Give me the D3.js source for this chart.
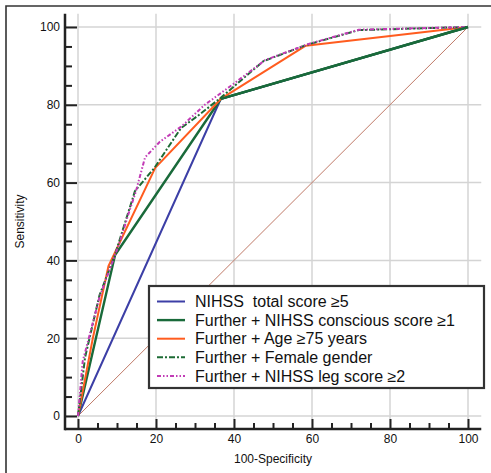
<!DOCTYPE html>
<html><head><meta charset="utf-8">
<script src="https://cdn.jsdelivr.net/npm/d3@7"></script>
<style>body{margin:0;background:#fff}svg{display:block;font-family:"Liberation Sans",Arial,sans-serif}</style>
</head><body>
<svg id="c" width="491" height="473"></svg>
<script>
const seriesNames = ["NIHSS\u00a0 total score \u22655","Further + NIHSS conscious score \u22651","Further + Age \u226575 years","Further + Female gender","Further + NIHSS leg score \u22652"];
const blueX = [0, 36.6, 100];
const blueY = [0, 81.5, 100];
const greenX = [0, 9.5, 36.6, 100];
const greenY = [0, 41.4, 81.5, 100];
const orangeX = [0, 3.8, 7.8, 19.8, 36.6, 58.4, 100];
const orangeY = [0, 20, 38.5, 63.8, 81.5, 95.2, 100];
const femaleX = [0, 1.8, 5.5, 9.5, 14.6, 19.6, 26.4, 31.3, 36.6, 47.5, 58.6, 72, 100];
const femaleY = [0, 15, 31, 41.5, 57.8, 63.8, 74, 77.6, 81.8, 91.2, 95.4, 99.2, 100];
const legX = [0, 1.2, 5.5, 10.6, 12.8, 14.8, 17.2, 21, 26.6, 32.5, 39.5, 48, 59, 72, 100];
const legY = [0, 14, 30.5, 44.4, 51.5, 57.6, 66.5, 70.5, 74.5, 80, 85.1, 91.5, 95.6, 99.3, 100];
const diagX = [0, 100];
const diagY = [0, 100];
const majorTicks = [0, 20, 40, 60, 80, 100];
const minorTicks = [5,10,15,25,30,35,45,50,55,65,70,75,85,90,95];
const xTitle = "100-Specificity";
const yTitle = "Sensitivity";

const svg = d3.select("#c");
const x = d3.scaleLinear().domain([0,100]).range([78,468]);
const y = d3.scaleLinear().domain([0,100]).range([416,27]);

// outer frame (cropped)
svg.append("path").attr("d","M6,473 L6,6 L491,6").attr("fill","none").attr("stroke","#333").attr("stroke-width",1.6);

// grid
const g = svg.append("g");
majorTicks.forEach(v=>{
  g.append("line").attr("x1",x(v)).attr("x2",x(v)).attr("y1",y(103.4)).attr("y2",y(-3.4)).attr("stroke","#d4d4d4").attr("stroke-width",1.5);
  g.append("line").attr("y1",y(v)).attr("y2",y(v)).attr("x1",x(-3.3)).attr("x2",x(103.4)).attr("stroke","#d4d4d4").attr("stroke-width",1.5);
});

// axes
const axX = 65, axY = 429;
const ya = svg.append("g").attr("transform",`translate(${axX},0)`)
  .call(d3.axisLeft(y).tickValues(majorTicks).tickSizeInner(-12).tickSizeOuter(0).tickPadding(5));
const yam = svg.append("g").attr("transform",`translate(${axX},0)`)
  .call(d3.axisLeft(y).tickValues(minorTicks).tickSizeInner(-7).tickSizeOuter(0).tickFormat(""));
const xa = svg.append("g").attr("transform",`translate(0,${axY})`)
  .call(d3.axisBottom(x).tickValues(majorTicks).tickSizeInner(-10).tickSizeOuter(0).tickPadding(5));
const xam = svg.append("g").attr("transform",`translate(0,${axY})`)
  .call(d3.axisBottom(x).tickValues(minorTicks).tickSizeInner(-6).tickSizeOuter(0).tickFormat(""));
[ya,yam,xa,xam].forEach(a=>{
  a.select(".domain").remove();
  a.selectAll(".tick line").attr("stroke","#222").attr("stroke-width",2);
  a.selectAll("text").attr("font-size",12).attr("fill","#111").attr("font-family","Liberation Sans, Arial, sans-serif");
});
svg.append("line").attr("x1",axX).attr("x2",axX).attr("y1",y(103.4)).attr("y2",axY+1.2).attr("stroke","#222").attr("stroke-width",2.5);
svg.append("line").attr("x1",axX).attr("x2",x(103.4)).attr("y1",axY).attr("y2",axY).attr("stroke","#222").attr("stroke-width",2.5);

svg.append("text").attr("x",(x(0)+x(100))/2).attr("y",463).attr("text-anchor","middle").attr("font-size",12).attr("fill","#111").text(xTitle);
svg.append("text").attr("transform",`translate(24,${(y(0)+y(100))/2}) rotate(-90)`).attr("text-anchor","middle").attr("font-size",12).attr("fill","#111").text(yTitle);

const line = d3.line().x(d=>x(d[0])).y(d=>y(d[1]));
const zip = (a,b)=>a.map((v,i)=>[v,b[i]]);

// diagonal
svg.append("path").attr("d",line(zip(diagX,diagY))).attr("fill","none").attr("stroke","#c07a68").attr("stroke-width",1);

const styles = [
  {xs:blueX, ys:blueY, color:"#3c3fa6", w:2, dash:null},
  {xs:greenX, ys:greenY, color:"#196a3a", w:2.4, dash:null},
  {xs:orangeX, ys:orangeY, color:"#ff5c1f", w:2, dash:null},
  {xs:femaleX, ys:femaleY, color:"#1d6b34", w:2, dash:"6,2,2,2"},
  {xs:legX, ys:legY, color:"#c23cb6", w:2, dash:"4,2,1.5,2,1.5,2"}
];
styles.forEach(s=>{
  const p = svg.append("path").attr("d",line(zip(s.xs,s.ys))).attr("fill","none")
    .attr("stroke",s.color).attr("stroke-width",s.w).attr("stroke-linejoin","round");
  if (s.dash) p.attr("stroke-dasharray",s.dash);
});
// green drawn over blue on the shared upper segment
svg.append("path").attr("d",line(zip(greenX.slice(2),greenY.slice(2)))).attr("fill","none").attr("stroke","#196a3a").attr("stroke-width",2.4);

// legend
const lg = svg.append("g");
lg.append("rect").attr("x",149).attr("y",286).attr("width",335).attr("height",102).attr("fill","#fff").attr("stroke","#333").attr("stroke-width",2.2);
seriesNames.forEach((n,i)=>{
  const cy = 301.5 + i*18.6;
  const s = styles[i];
  const l = lg.append("line").attr("x1",157).attr("x2",185).attr("y1",cy).attr("y2",cy).attr("stroke",s.color).attr("stroke-width",s.w);
  if (s.dash) l.attr("stroke-dasharray",s.dash);
  lg.append("text").attr("x",195).attr("y",cy).attr("dy","0.36em").attr("font-size",16).attr("fill","#111").style("white-space","pre").text(n);
});
</script>
</body></html>
